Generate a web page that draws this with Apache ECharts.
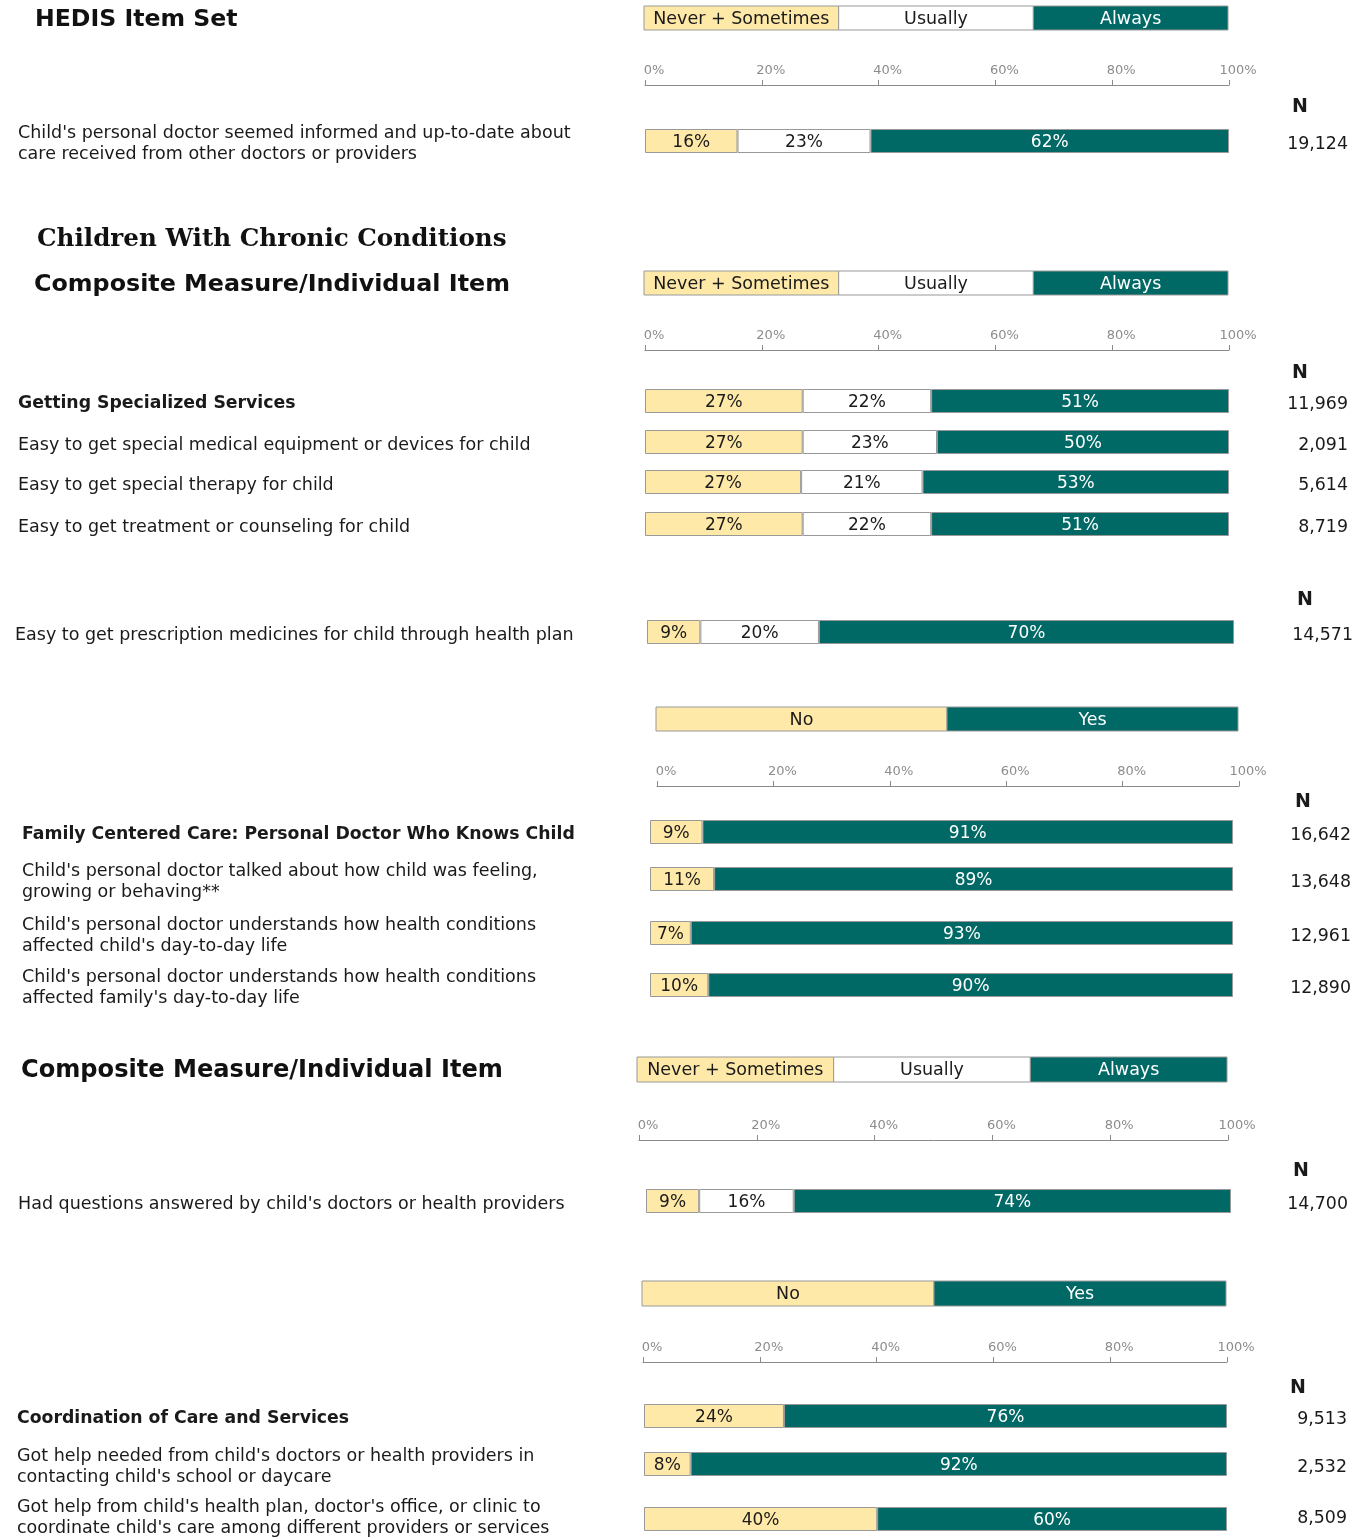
<!DOCTYPE html>
<html>
<head>
<meta charset="utf-8">
<script src="https://cdn.jsdelivr.net/npm/echarts@6/dist/echarts.min.js"></script>
<style>
  html, body { margin: 0; padding: 0; background: #fff; }
  #chart { width: 1362px; height: 1539px; }
</style>
</head>
<body>
<div id="chart"></div>
<script>
// data
const freqLabels = ['Never + Sometimes', 'Usually', 'Always'];
const ynLabels = ['No', 'Yes'];
const axisTicks = [0, 20, 40, 60, 80, 100];

const hedisItems = ["Child's personal doctor seemed informed and up-to-date about\ncare received from other doctors or providers"];
const hedisNever = [16];
const hedisUsually = [23];
const hedisAlways = [62];
const hedisN = ['19,124'];

const specialItems = [
  'Getting Specialized Services',
  'Easy to get special medical equipment or devices for child',
  'Easy to get special therapy for child',
  'Easy to get treatment or counseling for child'
];
const specialNever = [27, 27, 27, 27];
const specialUsually = [22, 23, 21, 22];
const specialAlways = [51, 50, 53, 51];
const specialN = ['11,969', '2,091', '5,614', '8,719'];

const rxItems = ['Easy to get prescription medicines for child through health plan'];
const rxNever = [9];
const rxUsually = [20];
const rxAlways = [70];
const rxN = ['14,571'];

const doctorItems = [
  'Family Centered Care: Personal Doctor Who Knows Child',
  "Child's personal doctor talked about how child was feeling,\ngrowing or behaving**",
  "Child's personal doctor understands how health conditions\naffected child's day-to-day life",
  "Child's personal doctor understands how health conditions\naffected family's day-to-day life"
];
const doctorNo = [9, 11, 7, 10];
const doctorYes = [91, 89, 93, 90];
const doctorN = ['16,642', '13,648', '12,961', '12,890'];

const questionItems = ["Had questions answered by child's doctors or health providers"];
const questionNever = [9];
const questionUsually = [16];
const questionAlways = [74];
const questionN = ['14,700'];

const coordItems = [
  'Coordination of Care and Services',
  "Got help needed from child's doctors or health providers in\ncontacting child's school or daycare",
  "Got help from child's health plan, doctor's office, or clinic to\ncoordinate child's care among different providers or services"
];
const coordNo = [24, 8, 40];
const coordYes = [76, 92, 60];
const coordN = ['9,513', '2,532', '8,509'];

// colours
const YELLOW = '#ffe9a8';
const TEAL = '#006966';
const EDGE = '#999999';
const FONT = 'DejaVu Sans';

// layout of the bar blocks
const blocks = [
  { items: hedisItems, parts: [hedisNever, hedisUsually, hedisAlways], colors: [YELLOW, '#fff', TEAL],
    n: hedisN, left: 645, right: 1229, textX: 18, nX: 1348, nHead: [1300, 105], ys: [141], boldFirst: false },
  { items: specialItems, parts: [specialNever, specialUsually, specialAlways], colors: [YELLOW, '#fff', TEAL],
    n: specialN, left: 645, right: 1229, textX: 18, nX: 1348, nHead: [1300, 371], ys: [401, 442, 482, 524], boldFirst: true },
  { items: rxItems, parts: [rxNever, rxUsually, rxAlways], colors: [YELLOW, '#fff', TEAL],
    n: rxN, left: 647, right: 1234, textX: 15, nX: 1353, nHead: [1305, 598], ys: [632], boldFirst: false },
  { items: doctorItems, parts: [doctorNo, doctorYes], colors: [YELLOW, TEAL],
    n: doctorN, left: 650, right: 1233, textX: 22, nX: 1351, nHead: [1303, 800], ys: [832, 879, 933, 985], boldFirst: true },
  { items: questionItems, parts: [questionNever, questionUsually, questionAlways], colors: [YELLOW, '#fff', TEAL],
    n: questionN, left: 646, right: 1231, textX: 18, nX: 1348, nHead: [1301, 1169], ys: [1201], boldFirst: false },
  { items: coordItems, parts: [coordNo, coordYes], colors: [YELLOW, TEAL],
    n: coordN, left: 644, right: 1227, textX: 17, nX: 1347, nHead: [1298, 1386], ys: [1416, 1464, 1519], boldFirst: true }
];

// legend strips and percent scales
const legends = [
  { labels: freqLabels, left: 644, right: 1228, top: 6, h: 24 },
  { labels: freqLabels, left: 644, right: 1228, top: 271, h: 24 },
  { labels: ynLabels, left: 656, right: 1238, top: 707, h: 24 },
  { labels: freqLabels, left: 637, right: 1227, top: 1057, h: 25 },
  { labels: ynLabels, left: 642, right: 1226, top: 1281, h: 25 }
];
const scales = [
  { left: 645, right: 1229, y: 85 },
  { left: 645, right: 1229, y: 350 },
  { left: 657, right: 1239, y: 786 },
  { left: 639, right: 1228, y: 1140 },
  { left: 643, right: 1227, y: 1362 }
];

const grid = [], xAxis = [], yAxis = [], series = [], graphic = [];

// scales: one grid for line + ticks, one shifted grid for the labels
scales.forEach(s => {
  const w = s.right - s.left;
  [0, 9].forEach(shift => {
    const gi = grid.length;
    grid.push({ left: s.left + shift, width: w, top: s.y, height: 1 });
    xAxis.push({
      gridIndex: gi, type: 'value', position: 'top', min: 0, max: 100, interval: 20,
      axisLine: { show: shift === 0, lineStyle: { color: '#8a8a8a', width: 1 } },
      axisTick: { show: shift === 0, length: 5, lineStyle: { color: '#8a8a8a' } },
      splitLine: { show: false },
      axisLabel: {
        show: shift !== 0, margin: 8, fontFamily: FONT, fontSize: 13, color: '#8c8c8c',
        formatter: v => axisTicks.indexOf(v) >= 0 ? v + '%' : ''
      }
    });
    yAxis.push({ gridIndex: gi, type: 'category', data: [''], show: false });
  });
});

// bars: one grid per row, plus a slightly lower twin grid holding the row texts
blocks.forEach((b, bi) => {
  b.ys.forEach((y, i) => {
    const w = b.right - b.left;
    // text grid
    const ti = grid.length;
    grid.push({ left: b.left, width: w, top: y - 9, height: 24 });
    xAxis.push({ gridIndex: ti, type: 'value', min: 0, max: 100, show: false });
    const bold = b.boldFirst && i === 0;
    yAxis.push({
      gridIndex: ti, type: 'category', data: [b.items[i]],
      axisLine: { show: false }, axisTick: { show: false },
      axisLabel: {
        margin: b.left - b.textX, align: 'left', fontFamily: FONT,
        fontSize: bold ? 17.3 : 17.5, fontWeight: bold ? 'bold' : 'normal',
        lineHeight: 21, color: '#1a1a1a'
      }
    });
    yAxis.push({
      gridIndex: ti, type: 'category', data: [b.n[i]], position: 'right',
      axisLine: { show: false }, axisTick: { show: false },
      axisLabel: { margin: b.nX - b.right, align: 'right', fontFamily: FONT, fontSize: 17.4, color: '#1a1a1a' }
    });
    // bar grid
    const gi = grid.length;
    grid.push({ left: b.left, width: w, top: y - 12, height: 24 });
    xAxis.push({ gridIndex: gi, type: 'value', min: 0, max: 'dataMax', show: false });
    yAxis.push({ gridIndex: gi, type: 'category', data: [''], show: false });
    const yi = yAxis.length - 1;
    b.parts.forEach((arr, k) => {
      series.push({
        type: 'bar', xAxisIndex: gi, yAxisIndex: yi, stack: 'r' + bi + '_' + i,
        barWidth: 24, data: [arr[i]], animation: false,
        itemStyle: { color: b.colors[k], borderColor: EDGE, borderWidth: 1 },
        label: {
          show: true, position: 'inside', formatter: '{c}%', fontFamily: FONT, fontSize: 17,
          offset: [0, 2], color: b.colors[k] === TEAL ? '#fff' : '#1a1a1a'
        }
      });
    });
  });
  graphic.push({
    type: 'text', x: b.nHead[0], y: b.nHead[1] + 2,
    style: { text: 'N', font: 'bold 19px ' + FONT, fill: '#1a1a1a', align: 'center', verticalAlign: 'middle' }
  });
});

// legend strips
legends.forEach(l => {
  const seg = (l.right - l.left) / l.labels.length;
  const fills = l.labels.length === 3 ? [YELLOW, '#fff', TEAL] : [YELLOW, TEAL];
  l.labels.forEach((t, k) => {
    graphic.push({
      type: 'rect', shape: { x: l.left + seg * k, y: l.top, width: seg, height: l.h },
      style: { fill: fills[k], stroke: EDGE, lineWidth: 1 }
    });
    graphic.push({
      type: 'text', x: l.left + seg * k + seg / 2, y: l.top + l.h / 2 + 1,
      style: { text: t, font: '17.5px ' + FONT, fill: fills[k] === TEAL ? '#fff' : '#1a1a1a',
               align: 'center', verticalAlign: 'middle' }
    });
  });
});

// headings
const headings = [
  { text: 'HEDIS Item Set', x: 35, y: 20, font: 'bold 23.6px ' + FONT },
  { text: 'Children With Chronic Conditions', x: 37, y: 240, font: 'bold 24.6px "DejaVu Serif"' },
  { text: 'Composite Measure/Individual Item', x: 34, y: 285, font: 'bold 23.8px ' + FONT },
  { text: 'Composite Measure/Individual Item', x: 21, y: 1071, font: 'bold 24.1px ' + FONT }
];
headings.forEach(h => {
  graphic.push({
    type: 'text', x: h.x, y: h.y,
    style: { text: h.text, font: h.font, fill: '#111', verticalAlign: 'middle' }
  });
});

const chart = echarts.init(document.getElementById('chart'));
chart.setOption({
  animation: false,
  grid, xAxis, yAxis, series, graphic
});
</script>
</body>
</html>
